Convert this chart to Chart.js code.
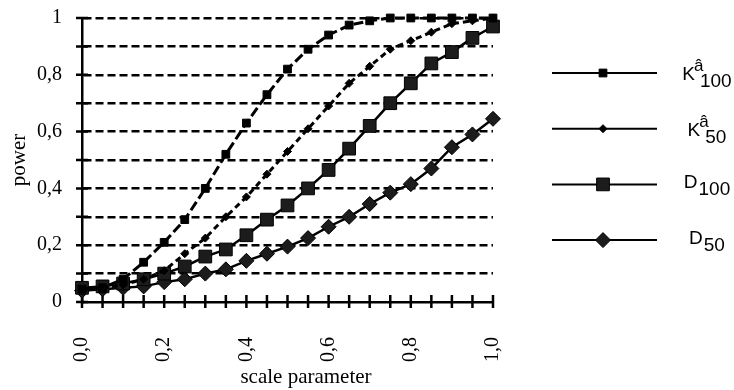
<!DOCTYPE html>
<html>
<head>
<meta charset="utf-8">
<script src="https://cdn.jsdelivr.net/npm/chart.js@4.4.1/dist/chart.umd.min.js"></script>
<style>
  html, body { margin: 0; padding: 0; background: #fff; }
  #wrap { width: 734px; height: 390px; position: relative; }
</style>
</head>
<body>
<div id="wrap"><canvas id="powerChart"></canvas></div>
<script>
// scale parameter steps (x) and power values per test
const SCALE_PARAM = [0, 0.05, 0.1, 0.15, 0.2, 0.25, 0.3, 0.35, 0.4, 0.45, 0.5,
                     0.55, 0.6, 0.65, 0.7, 0.75, 0.8, 0.85, 0.9, 0.95, 1.0];

const K100 = [0.045, 0.05, 0.08, 0.14, 0.21, 0.29, 0.40, 0.52, 0.63, 0.73, 0.82,
              0.89, 0.94, 0.975, 0.99, 1.0, 1.0, 1.0, 1.0, 1.0, 1.0];
const K50  = [0.045, 0.05, 0.06, 0.08, 0.11, 0.17, 0.225, 0.30, 0.37, 0.45, 0.53,
              0.61, 0.69, 0.77, 0.83, 0.89, 0.92, 0.95, 0.98, 0.99, 1.0];
const D100 = [0.05, 0.055, 0.065, 0.08, 0.10, 0.125, 0.16, 0.185, 0.235, 0.29, 0.34,
              0.40, 0.465, 0.54, 0.62, 0.70, 0.77, 0.84, 0.88, 0.93, 0.97];
const D50  = [0.04, 0.045, 0.05, 0.055, 0.07, 0.08, 0.10, 0.115, 0.145, 0.17, 0.195,
              0.225, 0.265, 0.30, 0.345, 0.385, 0.415, 0.47, 0.545, 0.59, 0.645];

const X_TICK_LABELS = ["0,0", "0,2", "0,4", "0,6", "0,8", "1,0"];
const Y_TICK_LABELS = ["0", "0,2", "0,4", "0,6", "0,8", "1"];

// legend text: main letter, superscript, subscript
const LEGEND_MAIN = ["K", "K", "D", "D"];
const LEGEND_SUP  = ["\u00e2", "\u00e2", "", ""];
const LEGEND_SUB  = ["100", "50", "100", "50"];

const SERIF = "'Liberation Serif', 'Times New Roman', serif";
const SANS = "'Liberation Sans', Arial, sans-serif";

function toPoints(ys) {
  return ys.map((y, i) => ({ x: SCALE_PARAM[i], y: y }));
}

// tick marks crossing both axes
const crossTicks = {
  id: 'crossTicks',
  beforeDatasetsDraw(chart) {
    const ctx = chart.ctx;
    const xs = chart.scales.x, ys = chart.scales.y;
    const x0 = xs.left, y0 = ys.bottom;
    ctx.save();
    ctx.strokeStyle = '#000';
    ctx.lineWidth = 2.5;
    ctx.beginPath();
    xs.ticks.forEach(t => {
      const px = xs.getPixelForValue(t.value);
      ctx.moveTo(px, y0 - 7);
      ctx.lineTo(px, y0 + 6);
    });
    ys.ticks.forEach(t => {
      const py = ys.getPixelForValue(t.value);
      ctx.moveTo(x0 - 6, py);
      ctx.lineTo(x0 + 6, py);
    });
    ctx.stroke();
    ctx.restore();
  }
};

const xTitle = {
  id: 'xTitle',
  afterDraw(chart) {
    const ctx = chart.ctx;
    ctx.save();
    ctx.font = '21px ' + SERIF;
    ctx.fillStyle = '#000';
    ctx.textAlign = 'center';
    ctx.textBaseline = 'middle';
    ctx.fillText('scale parameter', 306, 377);
    ctx.restore();
  }
};

const sideLegend = {
  id: 'sideLegend',
  afterDraw(chart) {
    const ctx = chart.ctx;
    const H = Chart.helpers;
    chart.data.datasets.forEach((ds, i) => {
      const ly = 73 + i * 55.7;
      ctx.save();
      ctx.strokeStyle = '#000';
      ctx.lineWidth = 2;
      ctx.beginPath();
      ctx.moveTo(552, ly);
      ctx.lineTo(657, ly);
      ctx.stroke();
      ctx.fillStyle = ds.pointBackgroundColor;
      ctx.strokeStyle = ds.pointBorderColor;
      ctx.lineWidth = 1;
      H.drawPoint(ctx, {
        pointStyle: ds.pointStyle,
        radius: ds.legendRadius,
        rotation: 0,
        borderWidth: 1
      }, 603, ly);

      // composite label centred at x = 707
      const main = LEGEND_MAIN[i], sup = LEGEND_SUP[i], sub = LEGEND_SUB[i];
      ctx.fillStyle = '#000';
      ctx.textBaseline = 'alphabetic';
      ctx.textAlign = 'left';
      ctx.font = '19px ' + SANS;
      const wMain = ctx.measureText(main).width;
      ctx.font = '17px ' + SANS;
      const wSup = sup ? ctx.measureText(sup).width : 0;
      ctx.font = '19px ' + SANS;
      const wSub = ctx.measureText(sub).width;
      const subStart = sup ? wMain + 5 : wMain + 1;
      const total = Math.max(wMain + wSup, subStart + wSub);
      const x0 = 707 - total / 2;
      const isK = !!sup;
      const base = ly + (isK ? 7 : 4);
      ctx.font = '19px ' + SANS;
      ctx.fillText(main, x0, base);
      if (sup) {
        ctx.font = '17px ' + SANS;
        ctx.fillText(sup, x0 + wMain - 1, ly - 2);
      }
      ctx.font = '19px ' + SANS;
      ctx.fillText(sub, x0 + subStart, base + 7);
      ctx.restore();
    });
  }
};

const datasets = [
  {
    label: 'K\u00e2100',
    data: toPoints(K100),
    borderColor: '#000',
    borderWidth: 3,
    borderDash: [10, 4],
    pointStyle: 'rect',
    pointRadius: 5.5,
    legendRadius: 5.5,
    pointBackgroundColor: '#000',
    pointBorderColor: '#000',
    pointBorderWidth: 1
  },
  {
    label: 'K\u00e250',
    data: toPoints(K50),
    borderColor: '#000',
    borderWidth: 3,
    borderDash: [6, 4],
    pointStyle: 'rectRot',
    pointRadius: 4,
    legendRadius: 4,
    pointBackgroundColor: '#000',
    pointBorderColor: '#000',
    pointBorderWidth: 1
  },
  {
    label: 'D100',
    data: toPoints(D100),
    borderColor: '#000',
    borderWidth: 2.5,
    pointStyle: 'rect',
    pointRadius: 9,
    legendRadius: 9,
    pointBackgroundColor: '#1c1c1c',
    pointBorderColor: '#000',
    pointBorderWidth: 1
  },
  {
    label: 'D50',
    data: toPoints(D50),
    borderColor: '#000',
    borderWidth: 2.5,
    pointStyle: 'rectRot',
    pointRadius: 7.5,
    legendRadius: 7.5,
    pointBackgroundColor: '#1c1c1c',
    pointBorderColor: '#000',
    pointBorderWidth: 1
  }
];
datasets.forEach(d => { d.fill = false; d.tension = 0; d.clip = false; });

new Chart(document.getElementById('powerChart'), {
  type: 'line',
  data: { datasets: datasets },
  options: {
    responsive: true,
    maintainAspectRatio: false,
    animation: false,
    events: [],
    layout: { padding: { top: 18, right: 241, left: 0, bottom: 0 } },
    plugins: {
      legend: { display: false },
      tooltip: { enabled: false }
    },
    scales: {
      x: {
        type: 'linear',
        min: 0,
        max: 1,
        afterFit(scale) {
          scale.height = 88;
          scale.paddingLeft = 0;
          scale.paddingRight = 0;
        },
        ticks: {
          stepSize: 0.05,
          autoSkip: false,
          minRotation: 90,
          maxRotation: 90,
          padding: 35,
          color: '#000',
          font: { family: SERIF, size: 20 },
          callback(v) {
            const idx = Math.round(v * 20);
            return idx % 4 === 0 ? X_TICK_LABELS[idx / 4] : '';
          }
        },
        grid: { drawOnChartArea: false, drawTicks: false },
        border: { display: true, color: '#000', width: 2.5 }
      },
      y: {
        min: 0,
        max: 1,
        afterFit(scale) {
          scale.width = 82;
          scale.paddingTop = 0;
          scale.paddingBottom = 0;
        },
        ticks: {
          stepSize: 0.1,
          padding: 20,
          color: '#000',
          font: { family: SERIF, size: 20 },
          callback(v) {
            const idx = Math.round(v * 10);
            return idx % 2 === 0 ? Y_TICK_LABELS[idx / 2] : '';
          }
        },
        grid: {
          drawTicks: false,
          lineWidth: 2.5,
          color: ctx => (ctx.tick && ctx.tick.value === 0) ? 'rgba(0,0,0,0)' : '#000'
        },
        border: { display: true, color: '#000', width: 2.5, dash: [8, 4] },
        title: {
          display: true,
          text: 'power',
          color: '#000',
          font: { family: SERIF, size: 21 },
          padding: { top: 7, bottom: 0 }
        }
      }
    }
  },
  plugins: [crossTicks, xTitle, sideLegend]
});
</script>
</body>
</html>
